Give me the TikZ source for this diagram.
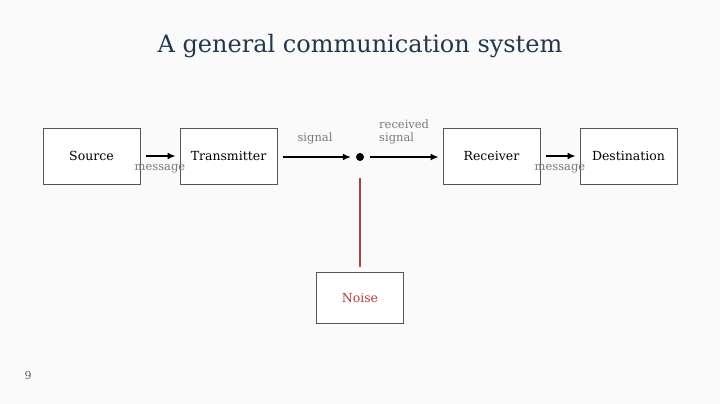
\documentclass[tikz,border=0pt]{standalone}
\usepackage{fontspec}
\setmainfont{DejaVu Serif}
\usetikzlibrary{arrows.meta}
\definecolor{bgc}{HTML}{FAFAFA}
\definecolor{titlec}{HTML}{23374D}
\definecolor{labc}{HTML}{7A7A7A}
\definecolor{noisec}{HTML}{B0413E}
\definecolor{boxc}{HTML}{555555}
\tikzset{
  blk/.style={draw=boxc, line width=1pt, fill=white, minimum width=97pt, minimum height=56pt, inner sep=0pt, font=\fontsize{12.5}{14}\selectfont},
  lab/.style={text=labc, font=\fontsize{11.5}{13}\selectfont, inner sep=0pt},
  conn/.style={line width=1.3pt, -{Latex[length=8pt,width=7pt]}},
}
\begin{document}
\begin{tikzpicture}[x=1pt,y=-1pt]
\fill[bgc] (0,0) rectangle (720,404);
\useasboundingbox (0,0) rectangle (720,404);
\node[text=titlec, font=\fontsize{24}{28}\selectfont, inner sep=0pt] (title) at (360,46) {A general communication system};
\node[blk] (src) at (91.5,156) {Source};
\node[blk] (tx) at (228.5,156) {Transmitter};
\node[circle, fill=black, inner sep=0pt, minimum size=8pt] (dot) at (360,157) {};
\node[blk] (rx) at (491.5,156) {Receiver};
\node[blk] (dst) at (628.5,156) {Destination};
\node[blk, minimum width=87pt, minimum height=51pt, text=noisec] (noise) at (360,297.5) {Noise};
\draw[conn, shorten <=5pt, shorten >=4pt] (src) -- (tx);
\draw[conn, shorten <=5pt, shorten >=5pt] (tx.east |- dot) -- (dot);
\draw[conn, shorten <=6pt, shorten >=4pt] (dot) -- (rx.west |- dot);
\draw[conn, shorten <=5pt, shorten >=4pt] (rx) -- (dst);
\draw[noisec, line width=1.3pt, shorten <=17pt, shorten >=5pt] (dot) -- (noise.north);
\node[lab] (m1) at (160,169) {message};
\node[lab] (sig) at (315,138) {signal};
\node[lab, anchor=west, align=left] (rsig) at (379,131.5) {received\\signal};
\node[lab] (m2) at (560,169) {message};
\node[text=labc!80!black, font=\fontsize{11}{12}\selectfont, inner sep=0pt] (pg) at (28,375) {9};
\end{tikzpicture}
\end{document}
